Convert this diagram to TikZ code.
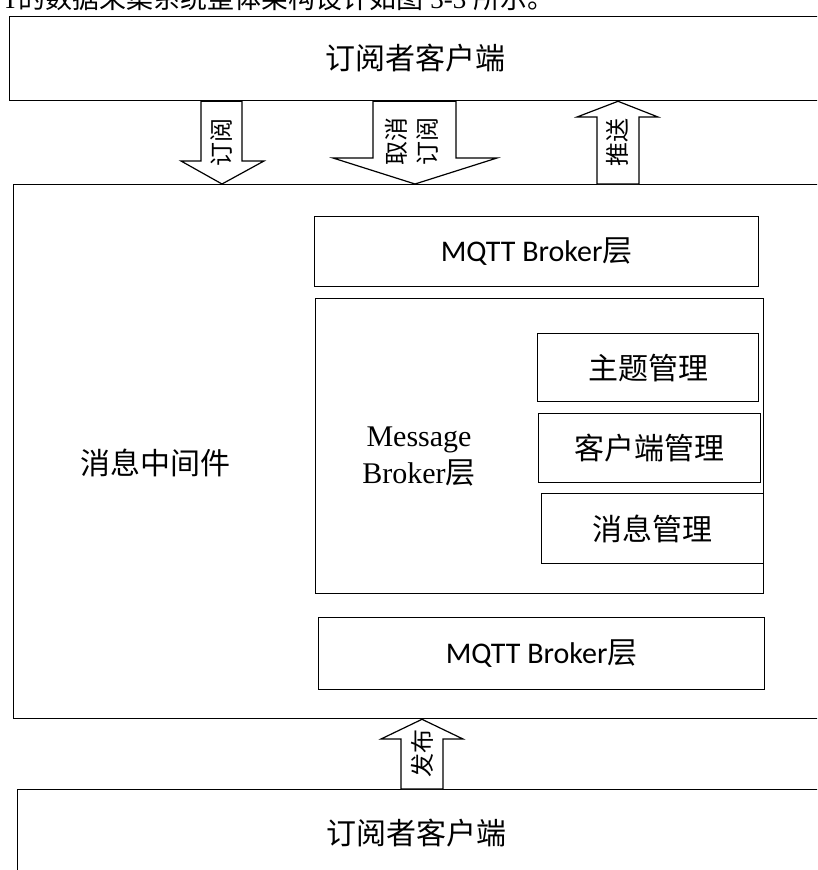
\documentclass[tikz,border=0pt]{standalone}
\usepackage{fontspec}
\setmainfont{Liberation Serif}
\newfontfamily\cjk{Noto Sans CJK SC}
\newfontfamily\calib{Carlito}
\begin{document}
\begin{tikzpicture}[x=1pt,y=-1pt,
  box/.style={draw, line width=1.3pt, anchor=north west, inner sep=0pt},
  blockarrow/.style={draw, line width=1.2pt, fill=white, line join=miter},
  cjklbl/.style={font=\cjk\fontsize{30}{36}\selectfont, inner sep=0pt},
  mqlbl/.style={font=\calib\fontsize{30}{36}\selectfont, inner sep=0pt},
  vlbl/.style={font=\cjk\fontsize{24}{31}\selectfont, rotate=90, align=center, inner sep=0pt},
]
\useasboundingbox (0,0) rectangle (817,870);
\fill[white] (0,0) rectangle (817,870);
\clip (0,0) rectangle (817,870);

% partially visible caption line at the top
\node[anchor=base west, inner sep=0pt, font=\fontsize{27}{30}\selectfont] (hdr) at (2,9)
  {T{\cjk 的数据采集系统整体架构设计如图} 3-3 {\cjk 所示。}};

% outer boxes
\node[box, minimum width=813pt, minimum height=84pt]  (top) at (9,16) {};
\node[box, minimum width=809pt, minimum height=534pt] (mid) at (13,184) {};
\node[box, minimum width=805pt, minimum height=83pt]  (bot) at (17,789) {};

\node[cjklbl] (toplbl) at (415,58) {订阅者客户端};
\node[cjklbl] (midlbl) at (155,463) {消息中间件};
\node[cjklbl] (botlbl) at (416,833) {订阅者客户端};

% inner boxes
\node[box, minimum width=444pt, minimum height=70pt, mqlbl] (mq1) at (314,216) {MQTT Broker{\cjk 层}};
\node[box, minimum width=448pt, minimum height=295pt] (msg) at (315,298) {};
\node[box, minimum width=221pt, minimum height=68pt, cjklbl] (t1) at (537,333) {主题管理};
\node[box, minimum width=222pt, minimum height=69pt, cjklbl] (t2) at (538,413) {客户端管理};
\node[box, minimum width=222pt, minimum height=70pt, cjklbl] (t3) at (541,493) {消息管理};
\node[box, minimum width=446pt, minimum height=72pt, mqlbl] (mq2) at (318,617) {MQTT Broker{\cjk 层}};

\node[inner sep=0pt, align=center, font=\fontsize{30}{37}\selectfont] (msglbl) at (419,457)
  {Message\\Broker{\cjk 层}};

% block arrows
\draw[blockarrow] (201,0 |- top.south) -- (201,161) -- (181,161) -- (222,0 |- mid.north)
  -- (264,161) -- (242,161) -- (242,0 |- top.south) -- cycle;
\draw[blockarrow] (373,0 |- top.south) -- (373,158) -- (333,158) -- (415,0 |- mid.north)
  -- (497,158) -- (456,158) -- (456,0 |- top.south) -- cycle;
\draw[blockarrow] (597,0 |- mid.north) -- (597,117) -- (577,117) -- (618,0 |- top.south)
  -- (658,117) -- (639,117) -- (639,0 |- mid.north) -- cycle;
\draw[blockarrow] (401,0 |- bot.north) -- (401,739) -- (381,739) -- (422,0 |- mid.south)
  -- (463,739) -- (443,739) -- (443,0 |- bot.north) -- cycle;

\node[vlbl] (a1) at (222,142) {订阅};
\node[vlbl] (a2) at (412,141) {取消\\订阅};
\node[vlbl] (a3) at (617,142) {推送};
\node[vlbl] (a4) at (422,753) {发布};
\end{tikzpicture}
\end{document}
